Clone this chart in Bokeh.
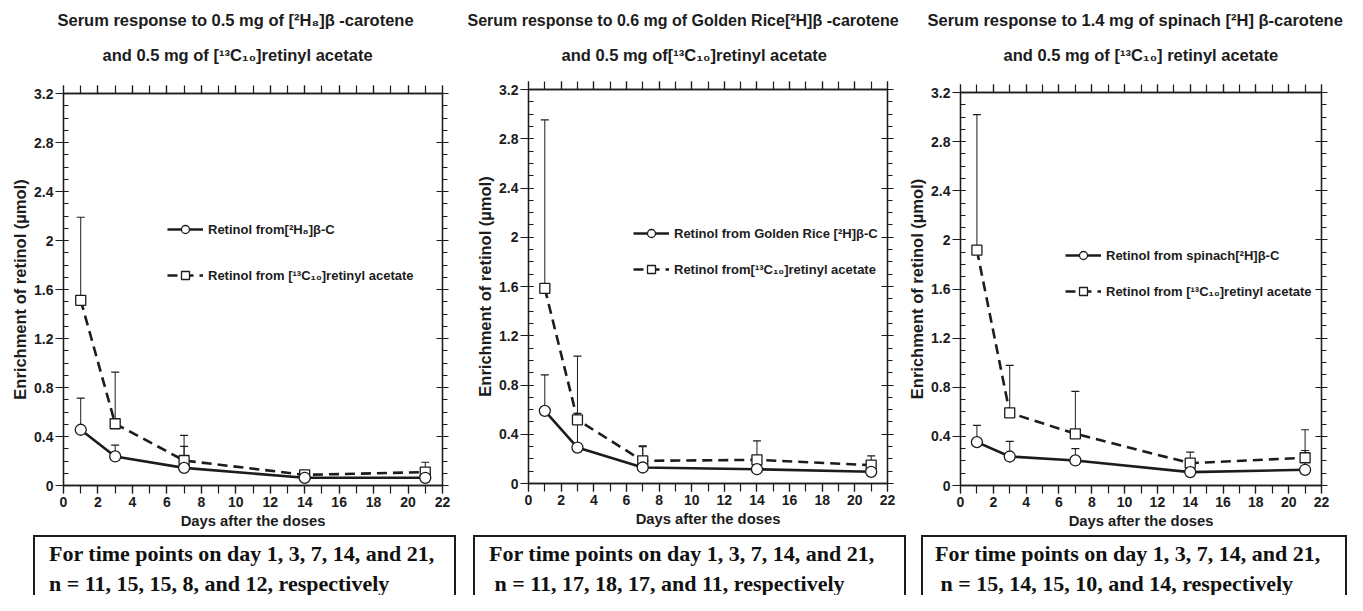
from bokeh.plotting import figure
from bokeh.models import (Title, Legend, LegendItem, LinearAxis, Div, FixedTicker,
                          Range1d, NumeralTickFormatter, ColumnDataSource)
from bokeh.layouts import row, column
from bokeh.embed import file_html
from bokeh.resources import INLINE

# ---------------- data ----------------
days = [1, 3, 7, 14, 21]

# Panel 1: [2H8]beta-carotene
p1_bc = [0.455, 0.237, 0.144, 0.063, 0.063]
p1_bc_err = [0.714, 0.33, 0.32, 0.10, 0.136]
p1_ra = [1.512, 0.504, 0.204, 0.087, 0.109]
p1_ra_err = [2.19, 0.926, 0.41, 0.117, 0.19]

# Panel 2: Golden Rice [2H]beta-carotene
p2_bc = [0.59, 0.292, 0.13, 0.116, 0.095]
p2_bc_err = [0.883, 0.57, 0.30, 0.20, 0.15]
p2_ra = [1.584, 0.517, 0.184, 0.192, 0.149]
p2_ra_err = [2.953, 1.034, 0.306, 0.347, 0.225]

# Panel 3: spinach [2H]beta-carotene
p3_bc = [0.353, 0.236, 0.204, 0.109, 0.128]
p3_bc_err = [0.489, 0.359, 0.30, 0.20, 0.285]
p3_ra = [1.916, 0.592, 0.421, 0.182, 0.226]
p3_ra_err = [3.02, 0.978, 0.766, 0.272, 0.454]

titles = [
    ("Serum response to 0.5 mg of [²H₈]β -carotene", "and 0.5 mg of [¹³C₁₀]retinyl acetate"),
    ("Serum response to 0.6 mg of Golden Rice[²H]β -carotene", "and 0.5 mg of[¹³C₁₀]retinyl acetate"),
    ("Serum response to 1.4 mg of spinach [²H] β-carotene", "and 0.5 mg of [¹³C₁₀] retinyl acetate"),
]
legend_labels = [
    ("Retinol from[²H₈]β-C", "Retinol from [¹³C₁₀]retinyl acetate"),
    ("Retinol from Golden Rice [²H]β-C", "Retinol from[¹³C₁₀]retinyl acetate"),
    ("Retinol from spinach[²H]β-C", "Retinol from [¹³C₁₀]retinyl acetate"),
]
notes = [
    ("For time points on day 1, 3, 7, 14, and 21,", "n = 11, 15, 15, 8, and 12, respectively"),
    ("For time points on day 1, 3, 7, 14, and 21,", " n = 11, 17, 18, 17, and 11, respectively"),
    ("For time points on day 1, 3, 7, 14, and 21,", " n = 15, 14, 15, 10, and 14, respectively"),
]
x_label = "Days after the doses"
y_label = "Enrichment of retinol (µmol)"

x_major = list(range(0, 23, 2))
x_minor = list(range(0, 23, 1))
y_major = [0, 0.4, 0.8, 1.2, 1.6, 2.0, 2.4, 2.8, 3.2]
y_minor = [round(i * 0.1, 1) for i in range(0, 33)]

FONT = "Liberation Sans"
SERIF = "Liberation Serif"
INK = "#1c1c1c"
FIG_H = 535


def style_axis(ax, labels=True, tick_in=0, tick_out=8, minor_out=6, minor_in=0):
    ax.axis_line_color = INK
    ax.axis_line_width = 1.3
    ax.major_tick_line_color = INK
    ax.minor_tick_line_color = INK
    ax.major_tick_line_width = 1.2
    ax.minor_tick_line_width = 1.2
    ax.major_tick_in = tick_in
    ax.major_tick_out = tick_out
    ax.minor_tick_in = minor_in
    ax.minor_tick_out = minor_out
    if labels:
        ax.major_label_text_font = FONT
        ax.major_label_text_font_style = "bold"
        ax.major_label_text_font_size = "14px"
        ax.major_label_text_color = INK
        ax.major_label_standoff = 3
        ax.axis_label_text_font = FONT
        ax.axis_label_text_font_style = "bold"
        ax.axis_label_text_color = INK
    else:
        # mirrored axis: ticks only, labels are not drawn
        ax.major_label_text_font_size = "1px"
        ax.major_label_text_color = None
        ax.major_label_standoff = 0


def panel(idx, bc, bc_err, ra, ra_err, width, bl, br, bt, bb, t_offs, t_sizes, t_standoffs,
          leg_loc, leg_spacing):
    p = figure(width=width, height=FIG_H, x_range=Range1d(0, 22), y_range=Range1d(0, 3.2),
               output_backend="svg", toolbar_location=None, frame_align=False,
               min_border_left=bl, min_border_right=br, min_border_top=bt, min_border_bottom=bb)
    p.grid.visible = False
    p.outline_line_color = INK
    p.outline_line_width = 1.3
    p.background_fill_color = "white"
    p.border_fill_color = "white"

    p.xaxis.ticker = FixedTicker(ticks=x_major, minor_ticks=x_minor)
    p.yaxis.ticker = FixedTicker(ticks=y_major, minor_ticks=y_minor)
    p.yaxis.formatter = NumeralTickFormatter(format="0.[0]")
    style_axis(p.xaxis[0], tick_out=8, minor_out=8)
    style_axis(p.yaxis[0], tick_in=5, tick_out=8, minor_out=0, minor_in=5)
    p.yaxis.major_label_standoff = 2
    p.xaxis.axis_label = x_label
    p.xaxis.axis_label_text_font_size = "14.8px"
    p.xaxis.axis_label_standoff = 3
    p.yaxis.axis_label = y_label
    p.yaxis.axis_label_text_font_size = "16.5px"
    p.yaxis.axis_label_standoff = 2

    top = LinearAxis(ticker=FixedTicker(ticks=x_major, minor_ticks=x_minor))
    style_axis(top, labels=False, tick_out=8, minor_out=8)
    p.add_layout(top, "above")
    right = LinearAxis(ticker=FixedTicker(ticks=y_major, minor_ticks=y_minor))
    style_axis(right, labels=False, tick_in=6, tick_out=6, minor_out=5)
    p.add_layout(right, "right")

    t1, t2 = titles[idx]
    p.add_layout(Title(text=t2, align="left", offset=t_offs[1], text_font=FONT,
                       text_font_style="bold", text_font_size=t_sizes[1], text_color=INK,
                       standoff=t_standoffs[1]), "above")
    p.add_layout(Title(text=t1, align="left", offset=t_offs[0], text_font=FONT,
                       text_font_style="bold", text_font_size=t_sizes[0], text_color=INK,
                       standoff=t_standoffs[0]), "above")

    src = ColumnDataSource(dict(x=days, bc=bc, bc_err=bc_err, ra=ra, ra_err=ra_err))
    # error bars (upper only)
    p.segment(x0="x", y0="ra", x1="x", y1="ra_err", source=src, line_color=INK, line_width=1)
    p.scatter(x="x", y="ra_err", source=src, marker="dash", size=8, line_color=INK, line_width=1.2)
    p.segment(x0="x", y0="bc", x1="x", y1="bc_err", source=src, line_color=INK, line_width=1)
    p.scatter(x="x", y="bc_err", source=src, marker="dash", size=8, line_color=INK, line_width=1.2)

    l_ra = p.line(x="x", y="ra", source=src, line_color=INK, line_width=2.6, line_dash="10 6")
    m_ra = p.scatter(x="x", y="ra", source=src, marker="square", size=10, fill_color="white",
                     line_color=INK, line_width=1.3)
    l_bc = p.line(x="x", y="bc", source=src, line_color=INK, line_width=2.6)
    m_bc = p.scatter(x="x", y="bc", source=src, marker="circle", size=11, fill_color="white",
                     line_color=INK, line_width=1.3)

    lab1, lab2 = legend_labels[idx]
    leg = Legend(items=[LegendItem(label=lab1, renderers=[l_bc, m_bc]),
                        LegendItem(label=lab2, renderers=[l_ra, m_ra])],
                 location=leg_loc, spacing=leg_spacing, padding=0, margin=0,
                 glyph_width=36, glyph_height=20, label_standoff=5,
                 border_line_alpha=0, background_fill_alpha=0,
                 label_text_font=FONT, label_text_font_style="bold",
                 label_text_font_size="13px", label_text_color=INK)
    p.add_layout(leg)
    return p


def note_box(idx, width, ml, bw, pl1, pl2):
    a, b = notes[idx]
    html = (
        f'<div style="margin-left:{ml}px;width:{bw}px;height:60px;box-sizing:border-box;'
        f'border:2px solid {INK};border-bottom:none;overflow:hidden;'
        f"font-family:'{SERIF}',serif;font-weight:bold;font-size:22px;color:#111;\">"
        f'<div style="padding-left:{pl1}px;line-height:34px;white-space:pre;">{a}</div>'
        f'<div style="padding-left:{pl2}px;line-height:34px;margin-top:-4px;white-space:pre;">{b}</div>'
        '</div>'
    )
    return Div(text=html, width=width, height=60, margin=(0, 0, 0, 0))


f1 = panel(0, p1_bc, p1_bc_err, p1_ra, p1_ra_err, 450, 63, 8, 93, 50,
           (-6, 39), ("16.5px", "16.5px"), (-14, 44), (104, 200), 26)
f2 = panel(1, p2_bc, p2_bc_err, p2_ra, p2_ra_err, 455, 78, 18, 89, 52,
           (-61, 33), ("16px", "16.5px"), (-6, 36), (105, 204), 16)
f3 = panel(2, p3_bc, p3_bc_err, p3_ra, p3_ra_err, 442, 55, 26, 92, 50,
           (-33, 43), ("16.5px", "16.5px"), (-12, 42), (105, 184), 16)

d1 = note_box(0, 465, 33, 423, 14, 14)
d2 = note_box(1, 450, 8, 433, 14, 14)
d3 = note_box(2, 432, 6, 426, 12, 12)

layout = column(row(f1, f2, f3, spacing=0), row(d1, d2, d3, spacing=0), spacing=0)
open("out.html", "w").write(file_html(layout, INLINE))
